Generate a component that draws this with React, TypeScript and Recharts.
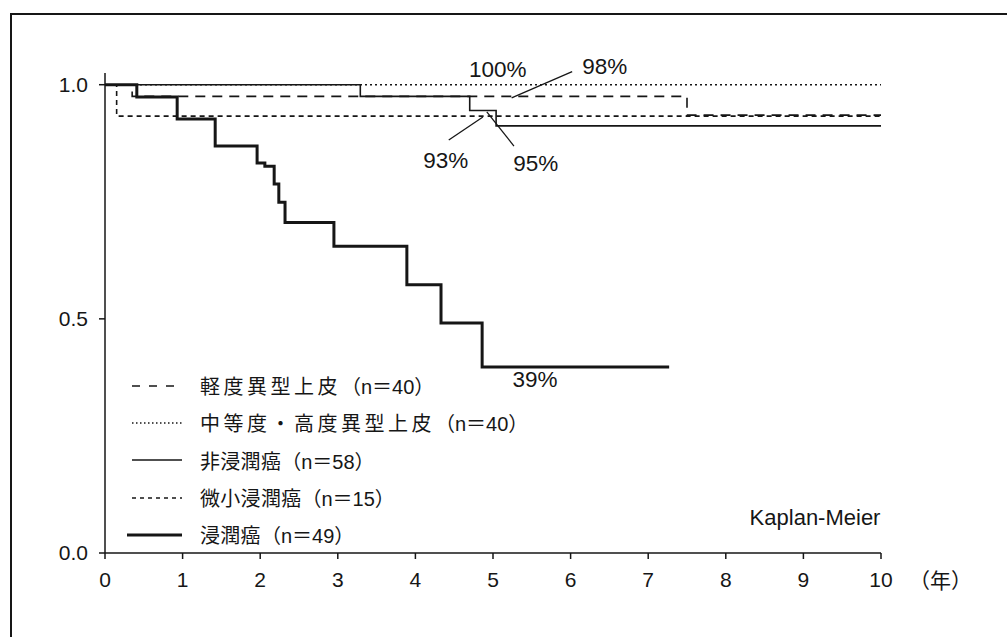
import {
  LineChart,
  Line,
  XAxis,
  YAxis,
  Legend,
  Label,
  ReferenceDot,
  ReferenceLine,
} from 'recharts';

const FONT = '"Liberation Sans", Arial, "Noto Sans CJK JP", sans-serif';
const INK = '#161616';

// survival curves (time in years, survival fraction)
const mildTimes = [0, 0.35, 7.5, 10];
const mildSurv = [1, 0.975, 0.935, 0.935];
const severeTimes = [0, 10];
const severeSurv = [1, 1];
const nonInvTimes = [0, 3.29, 4.7, 5.04, 10];
const nonInvSurv = [1, 0.975, 0.945, 0.912, 0.912];
const microTimes = [0, 0.15, 10];
const microSurv = [1, 0.933, 0.933];
const invTimes = [0, 0.41, 0.93, 1.42, 1.96, 2.06, 2.18, 2.24, 2.32, 2.95, 3.89, 4.33, 4.86, 7.27];
const invSurv = [1, 0.974, 0.927, 0.869, 0.833, 0.826, 0.788, 0.749, 0.706, 0.655, 0.573, 0.491, 0.397, 0.397];

const xTicks = [0, 1, 2, 3, 4, 5, 6, 7, 8, 9, 10];
const yTicks = [0, 0.5, 1];

const groupNames = [
  '軽度異型上皮',
  '中等度・高度異型上皮',
  '非浸潤癌',
  '微小浸潤癌',
  '浸潤癌',
];
const groupN = [40, 40, 58, 15, 49];

// percentage call-outs: text position and leader line ends
const calloutTexts = ['100%', '98%', '93%', '95%', '39%'];
const calloutX = [5.06, 6.44, 4.39, 5.55, 5.54];
const calloutY = [1.034, 1.039, 0.839, 0.833, 0.371];
const leaders = [
  [{ x: 6.02, y: 1.028 }, { x: 5.24, y: 0.972 }],
  [{ x: 4.43, y: 0.882 }, { x: 4.87, y: 0.931 }],
  [{ x: 5.27, y: 0.869 }, { x: 4.92, y: 0.942 }],
];

const toPoints = (times: number[], surv: number[]) =>
  times.map((t, i) => ({ t, s: surv[i] }));

const styles = [
  { dash: '10 7', width: 1.6, legendDash: '8 9', spacing: 3.5 },
  { dash: '2 3', width: 1.6, legendDash: '1.5 2.5', spacing: 3.5 },
  { dash: undefined, width: 1.6, legendDash: undefined, spacing: 0.3 },
  { dash: '5 4', width: 1.6, legendDash: '4 4', spacing: 0.3 },
  { dash: undefined, width: 3, legendDash: undefined, spacing: 0.3 },
];

const curves = [
  toPoints(mildTimes, mildSurv),
  toPoints(severeTimes, severeSurv),
  toPoints(nonInvTimes, nonInvSurv),
  toPoints(microTimes, microSurv),
  toPoints(invTimes, invSurv),
];

function LegendBox() {
  return (
    <div style={{ fontFamily: FONT, fontSize: 20, color: INK }}>
      {groupNames.map((name, i) => (
        <div
          key={name}
          style={{ display: 'flex', alignItems: 'center', height: 37.3 }}
        >
          <svg width={62} height={10} style={{ marginRight: 13 }}>
            <line
              x1={i === 4 ? 2 : 7}
              x2={57}
              y1={5}
              y2={5}
              stroke={INK}
              strokeWidth={styles[i].width}
              strokeDasharray={styles[i].legendDash}
            />
          </svg>
          <span style={{ whiteSpace: 'nowrap' }}>
            <span style={{ letterSpacing: styles[i].spacing }}>{name}</span>
            {`（n＝${groupN[i]}）`}
          </span>
        </div>
      ))}
    </div>
  );
}

export default function App() {
  return (
    <div
      style={{
        position: 'absolute',
        left: 0,
        top: 0,
        width: 1007,
        height: 637,
        background: '#fff',
        overflow: 'hidden',
      }}
    >
      <div
        style={{
          position: 'absolute',
          left: 10,
          top: 13,
          width: 1010,
          height: 640,
          borderLeft: `2px solid ${INK}`,
          borderTop: `2px solid ${INK}`,
        }}
      />
      <LineChart
        width={1007}
        height={637}
        margin={{ top: 73, right: 126, bottom: 44, left: 0 }}
        style={{ position: 'absolute', left: 0, top: 0, fontFamily: FONT }}
      >
        <XAxis
          dataKey="t"
          type="number"
          domain={[0, 10]}
          ticks={xTicks}
          height={40}
          stroke={INK}
          strokeWidth={1.5}
          tickSize={6}
          tickMargin={13}
          tick={{ fill: INK, fontSize: 21 }}
          allowDuplicatedCategory={false}
        >
          <Label
            value="（年）"
            position="right"
            offset={28}
            dy={8}
            style={{ fill: INK, fontSize: 21 }}
          />
        </XAxis>
        <YAxis
          dataKey="s"
          type="number"
          domain={[0, 1.025]}
          ticks={yTicks}
          width={105}
          stroke={INK}
          strokeWidth={1.5}
          tickSize={6}
          tickMargin={11}
          tick={{ fill: INK, fontSize: 21 }}
          tickFormatter={(v: number) => v.toFixed(1)}
        />
        <Legend
          layout="vertical"
          align="center"
          verticalAlign="middle"
          wrapperStyle={{ left: 125, top: 367, width: 460 }}
          content={() => <LegendBox />}
        />
        {[1, 0, 2, 3, 4].map((i) => (
          <Line
            key={groupNames[i]}
            data={curves[i]}
            dataKey="s"
            name={groupNames[i]}
            type="stepAfter"
            stroke={INK}
            strokeWidth={styles[i].width}
            strokeDasharray={styles[i].dash}
            dot={false}
            activeDot={false}
            isAnimationActive={false}
          />
        ))}
        {leaders.map((seg, i) => (
          <ReferenceLine
            key={`leader-${i}`}
            segment={seg}
            stroke={INK}
            strokeWidth={1.3}
            ifOverflow="visible"
          />
        ))}
        {calloutTexts.map((txt, i) => (
          <ReferenceDot
            key={txt}
            x={calloutX[i]}
            y={calloutY[i]}
            r={0}
            fill="none"
            stroke="none"
            ifOverflow="visible"
          >
            <Label
              value={txt}
              position="center"
              style={{ fill: INK, fontSize: 22.5 }}
            />
          </ReferenceDot>
        ))}
        <ReferenceDot
          x={9.15}
          y={0.077}
          r={0}
          fill="none"
          stroke="none"
        >
          <Label
            value="Kaplan-Meier"
            position="center"
            style={{ fill: INK, fontSize: 22 }}
          />
        </ReferenceDot>
      </LineChart>
    </div>
  );
}
